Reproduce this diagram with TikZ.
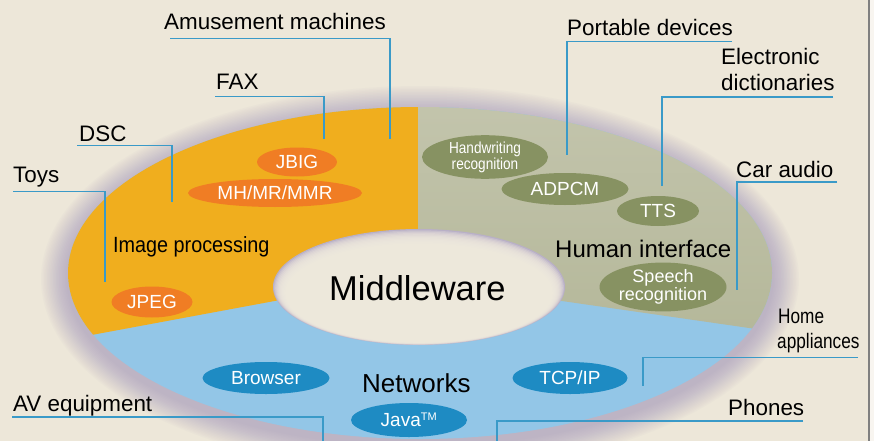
\documentclass[tikz,border=0pt]{standalone}
\usepackage{fontspec}
\usepackage{graphicx}
\setmainfont{Liberation Sans}
\usetikzlibrary{shapes.geometric}
\definecolor{bg}{HTML}{EDE7D9}
\definecolor{halo}{HTML}{8C80B4}
\definecolor{ringblue}{HTML}{93C6E7}
\definecolor{ringorange}{HTML}{F0AE1E}
\definecolor{ringgraytop}{HTML}{C9CAB4}
\definecolor{ringgraybot}{HTML}{B4B799}
\definecolor{holecream}{HTML}{F0EBDE}
\definecolor{leadblue}{HTML}{3A9AC8}
\definecolor{bdorange}{HTML}{F07D24}
\definecolor{bdolive}{HTML}{879262}
\definecolor{bdblue}{HTML}{1E8BC3}
\tikzset{
  lead/.style={draw=leadblue, line width=1.3pt},
  lbl/.style={anchor=base west, inner sep=0pt, text=black, font=\fontsize{22.4}{24}\selectfont},
  badge/.style={ellipse, inner sep=0pt, text=white, font=\fontsize{19}{19}\selectfont},
  sect/.style={anchor=base west, inner sep=0pt, text=black}
}
\begin{document}
\begin{tikzpicture}[x=1pt,y=-1pt]
\useasboundingbox (0,0) rectangle (874,441);
\fill[bg] (0,0) rectangle (874,441);
\fill[white!60!bg] (870,0) rectangle (874,441);
\draw[gray, line width=1.6pt] (869,0) -- (869,441);

% halo around the ring
\foreach \i in {1,...,18}
  \fill[halo, opacity=0.03] (420,279) ellipse [x radius={352pt+1.5pt*\i}, y radius={166pt+1.5pt*\i}];

% ring sectors
\begin{scope}
\clip (420,273) ellipse [x radius=352pt, y radius=166pt];
\fill[ringblue] (0,0) rectangle (874,441);
\fill[ringorange] (0,0) -- (418,0) -- (418,300) -- (280,300) -- (0,352) -- cycle;
\shade[top color=ringgraytop, bottom color=ringgraybot] (418,0) -- (874,0) -- (874,346) -- (555,300) -- (418,300) -- cycle;
\end{scope}

% hole with soft inner shadow
\fill[halo!55!holecream] (419,287) ellipse [x radius=146pt, y radius=58pt];
\foreach \i in {1,...,16}
  \fill[holecream, opacity=0.28] (419,{287+0.55*\i}) ellipse [x radius={146pt-1.1pt*\i}, y radius={58pt-0.75pt*\i}];

% leader line end points
\coordinate (amA) at (170,38.5);  \coordinate (amB) at (390,139);
\coordinate (faxA) at (215,96.5); \coordinate (faxB) at (324,139);
\coordinate (dscA) at (77,145.5); \coordinate (dscB) at (172,202);
\coordinate (toyA) at (13,191.5); \coordinate (toyB) at (105,282);
\coordinate (porA) at (732,41.5); \coordinate (porB) at (567,155);
\coordinate (eleA) at (833,97);   \coordinate (eleB) at (662,186);
\coordinate (carA) at (837,182);  \coordinate (carB) at (737,290);
\coordinate (homA) at (858,357.5);\coordinate (homB) at (643,386);
\coordinate (phoA) at (803,421);  \coordinate (phoB) at (497,441);
\coordinate (avA) at (12,417);    \coordinate (avB) at (323,441);
\draw[lead] (amA) -| (amB);
\draw[lead] (faxA) -| (faxB);
\draw[lead] (dscA) -| (dscB);
\draw[lead] (toyA) -| (toyB);
\draw[lead] (porA) -| (porB);
\draw[lead] (eleA) -| (eleB);
\draw[lead] (carA) -| (carB);
\draw[lead] (homA) -| (homB);
\draw[lead] (phoA) -| (phoB);
\draw[lead] (avA) -| (avB);

% labels
\node[lbl] (am) at (164,30) {Amusement machines};
\node[lbl] (fax) at (216,90) {FAX};
\node[lbl] (dsc) at (79,141) {DSC};
\node[lbl] (toys) at (13,182) {Toys};
\node[lbl] (port) at (567,36) {Portable devices};
\node[lbl] (elec1) at (721,65) {Electronic};
\node[lbl] (elec2) at (721,91) {dictionaries};
\node[lbl] (car) at (736,177) {Car audio};
\node[lbl, font=\fontsize{21}{22}\selectfont] (home1) at (778,323) {\scalebox{0.82}[1]{Home}};
\node[lbl, font=\fontsize{21}{22}\selectfont] (home2) at (777,348) {\scalebox{0.82}[1]{appliances}};
\node[lbl] (phones) at (728,415) {Phones};
\node[lbl] (av) at (13,411) {AV equipment};

% badges
\node[badge, fill=bdorange, minimum width=80pt, minimum height=29pt] (jbig) at (297,162) {JBIG};
\node[badge, fill=bdorange, minimum width=174pt, minimum height=28pt] (mh) at (275,193) {MH/MR/MMR};
\node[badge, fill=bdorange, minimum width=81pt, minimum height=31pt] (jpeg) at (152,302) {JPEG};
\node[badge, fill=bdolive, minimum width=126pt, minimum height=32pt, align=center, font=\fontsize{16}{14}\selectfont] (hw) at (485,157) {\scalebox{0.85}[1]{Handwriting}\\\scalebox{0.85}[1]{recognition}};
\node[badge, fill=bdolive, minimum width=127pt, minimum height=32pt] (adpcm) at (565,189) {ADPCM};
\node[badge, fill=bdolive, minimum width=82pt, minimum height=30pt] (tts) at (658,211) {TTS};
\node[badge, fill=bdolive, minimum width=127pt, minimum height=33pt, align=center, font=\fontsize{18}{14}\selectfont] (speech) at (663,287) {Speech\\recognition};
\node[badge, fill=bdblue, minimum width=127pt, minimum height=32pt] (browser) at (266,378) {Browser};
\node[badge, fill=bdblue, minimum width=115pt, minimum height=32pt] (tcp) at (570,378) {TCP/IP};
\node[badge, fill=bdblue, minimum width=116pt, minimum height=34pt] (java) at (409,420) {Java\textsuperscript{\fontsize{11}{11}\selectfont TM}};

% section titles
\node[sect, font=\fontsize{22}{22}\selectfont] (imgp) at (113,252) {\scalebox{0.9}[1]{Image processing}};
\node[sect, font=\fontsize{24}{24}\selectfont] (human) at (555,257) {Human interface};
\node[sect, font=\fontsize{34.5}{34.5}\selectfont] (mw) at (329,300) {Middleware};
\node[sect, font=\fontsize{26}{26}\selectfont] (net) at (362,392) {Networks};
\end{tikzpicture}
\end{document}
